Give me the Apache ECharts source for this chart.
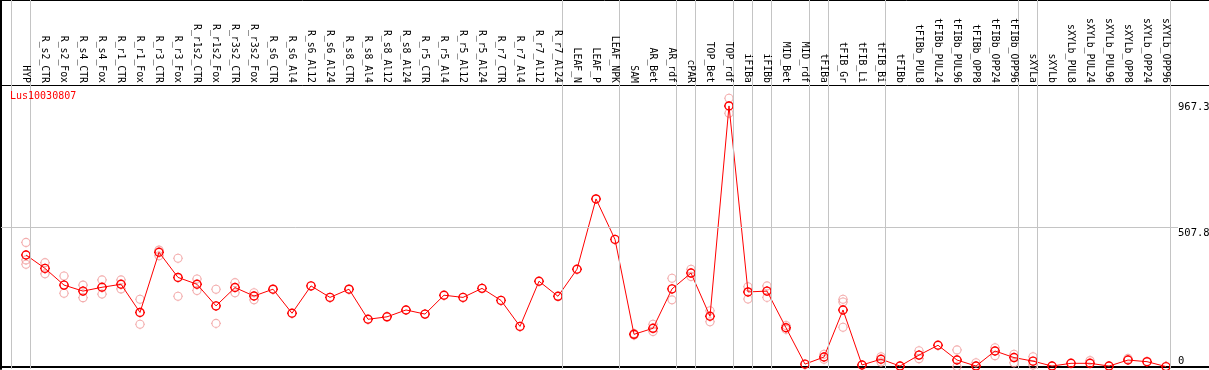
<!DOCTYPE html>
<html><head><meta charset="utf-8">
<style>html,body{margin:0;padding:0;background:#fff;}#c{width:1209px;height:370px;}</style>
<script src="https://cdn.jsdelivr.net/npm/echarts@6/dist/echarts.min.js"></script>
</head><body><div id="c"></div>
<script>
const categories = ['HYP','R_s2_CTR','R_s2_Fox','R_s4_CTR','R_s4_Fox','R_r1_CTR','R_r1_Fox','R_r3_CTR','R_r3_Fox','R_r1s2_CTR','R_r1s2_Fox','R_r3s2_CTR','R_r3s2_Fox','R_s6_CTR','R_s6_Al4','R_s6_Al12','R_s6_Al24','R_s8_CTR','R_s8_Al4','R_s8_Al12','R_s8_Al24','R_r5_CTR','R_r5_Al4','R_r5_Al12','R_r5_Al24','R_r7_CTR','R_r7_Al4','R_r7_Al12','R_r7_Al24','LEAF_N','LEAF_P','LEAF_NPK','SAM','AR_Bet','AR_rdf','cPAR','TOP_Bet','TOP_rdf','iFIBa','iFIBb','MID_Bet','MID_rdf','tFIBa','tFIB_Gr','tFIB_Li','tFIB_Bi','tFIBb','tFIBb_PUL8','tFIBb_PUL24','tFIBb_PUL96','tFIBb_OPP8','tFIBb_OPP24','tFIBb_OPP96','sXYLa','sXYLb','sXYLb_PUL8','sXYLb_PUL24','sXYLb_PUL96','sXYLb_OPP8','sXYLb_OPP24','sXYLb_OPP96'];
const meanValues = [408,359,298,276,290,301,198,418,326,301,222,289,258,283,195,295,253,283,173,182,207,192,261,253,286,242,147,312,257,356,613,465,118,140,284,342,184,953,273,276,142,9,35,207,6,27,2,42,78,24,2,57,33,20,2,12,12,2,24,18,0];
const repHigh = [454,380,331,298,317,317,246,426,396,320,283,307,270,null,null,null,null,null,null,null,null,null,null,null,null,null,null,null,null,null,null,null,121,155,323,356,204,981,292,295,150,null,45,246,null,36,null,58,null,61,14,69,45,36,null,null,22,null,30,null,null];
const repLow = [374,339,268,252,265,284,155,405,257,278,158,270,244,null,null,null,null,null,null,null,null,null,null,null,null,null,null,null,null,null,null,null,115,128,244,329,164,926,247,253,136,null,27,144,null,17,null,29,null,0,null,40,14,6,null,null,null,null,null,null,null];
const repMid = [390,null,null,null,null,null,null,null,null,null,null,null,null,null,null,null,null,null,null,null,null,null,null,null,null,null,null,null,null,null,null,null,null,null,null,null,null,null,null,null,null,null,null,236,null,null,null,null,null,null,null,null,null,null,null,null,null,null,null,null,null];
const groupEnds = [-1,0,28,31,34,35,37,38,39,41,42,45,52,53,60];
const yTickLabels = [0, 507.8, 967.3];
const geneId = 'Lus10030807';

const FONT = '"DejaVu Sans Mono", monospace';
const X_MIN = -25/19, X_MAX = X_MIN + 1208/19;
const Y_MIN = -8.77, Y_MAX = 1029.5;
const SEP_OFF = 0.226;
const GRID_LINE_END = 60.63;
const sym = 'path://M5,1A4,4,0,1,1,5,9A4,4,0,1,1,5,1Z M5,0L5,1 M5,9L5,10 M0,5L1,5 M9,5L10,5';

const reps = [];
[repHigh, repLow, repMid].forEach(arr => arr.forEach((v, i) => { if (v !== null) reps.push([i, v]); }));

const chart = echarts.init(document.getElementById('c'), null, {renderer: 'canvas'});
chart.setOption({
  animation: false,
  backgroundColor: '#fff',
  title: {text: geneId, left: 10, top: 91, padding: 0,
    textStyle: {color: '#ff0000', fontSize: 10, fontFamily: FONT, fontWeight: 'normal'}},
  grid: {left: 1, right: 0, top: 85, bottom: 1, containLabel: false, outerBoundsMode: 'none'},
  xAxis: [
    {type: 'value', min: X_MIN, max: X_MAX, position: 'bottom',
     axisLine: {show: true, lineStyle: {color: '#000', width: 2}},
     axisTick: {show: false}, axisLabel: {show: false}, splitLine: {show: false}},
    {type: 'value', min: X_MIN, max: X_MAX, position: 'top',
     axisLine: {show: true, onZero: false, lineStyle: {color: '#000', width: 1}},
     axisTick: {show: true, inside: false, length: 85, customValues: groupEnds.map(g => g + SEP_OFF),
       lineStyle: {color: '#c4c4c4', width: 1}},
     axisLabel: {show: true, rotate: 90, margin: 2, customValues: categories.map((c, i) => i),
       formatter: v => categories[Math.round(v)] || '', fontSize: 9.8, fontFamily: FONT, color: '#000'},
     splitLine: {show: false}}
  ],
  yAxis: [
    {type: 'value', min: Y_MIN, max: Y_MAX, position: 'left',
     axisLine: {show: true, onZero: false, lineStyle: {color: '#000', width: 2}},
     axisTick: {show: false}, axisLabel: {show: false}, splitLine: {show: false}},
    {type: 'value', min: Y_MIN, max: Y_MAX, position: 'right',
     axisLine: {show: false}, axisTick: {show: false}, splitLine: {show: false},
     axisLabel: {show: true, inside: true, align: 'left', margin: 31, verticalAlign: 'top',
       customValues: yTickLabels.slice(1), formatter: v => String(v),
       fontSize: 10.5, fontFamily: FONT, color: '#000'}},
    {type: 'value', min: Y_MIN, max: Y_MAX, position: 'right',
     axisLine: {show: false}, axisTick: {show: false}, splitLine: {show: false},
     axisLabel: {show: true, inside: true, align: 'left', margin: 31, verticalAlign: 'bottom',
       customValues: yTickLabels.slice(0, 1), formatter: v => String(v),
       fontSize: 10.5, fontFamily: FONT, color: '#000'}}
  ],
  graphic: [
    {type: 'line', shape: {x1: 0, y1: 0.5, x2: 1209, y2: 0.5}, style: {stroke: '#000', lineWidth: 1}},
    {type: 'line', shape: {x1: 1, y1: 0, x2: 1, y2: 86}, style: {stroke: '#000', lineWidth: 2}}
  ],
  series: [
    {type: 'line', data: [], silent: true, z: 1,
     markLine: {silent: true, symbol: ['none', 'none'], animation: false, label: {show: false},
       lineStyle: {color: '#c4c4c4', width: 1, type: 'solid'},
       data: groupEnds.map(g => ({xAxis: g + SEP_OFF})).concat([
         [{coord: [X_MIN, yTickLabels[1]]}, {coord: [GRID_LINE_END, yTickLabels[1]]}]
       ])}},
    {type: 'scatter', data: reps, symbol: sym, symbolSize: 10, z: 2, clip: false,
     itemStyle: {color: 'rgba(0,0,0,0)', borderColor: '#f09a9a', borderWidth: 1.1}},
    {type: 'line', data: meanValues.map((v, i) => [i, v]), symbol: sym, symbolSize: 10, showAllSymbol: true,
     z: 3, clip: false,
     lineStyle: {color: '#ff0000', width: 1},
     itemStyle: {color: 'rgba(0,0,0,0)', borderColor: '#ff0000', borderWidth: 1.4}}
  ]
});
</script>
</body></html>
